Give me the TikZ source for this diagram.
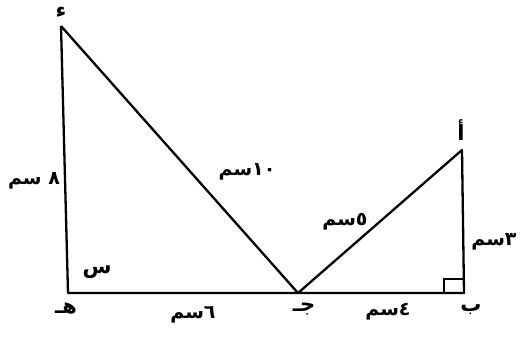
\documentclass[tikz,border=0pt]{standalone}
\usepackage{fontspec}
\TeXXeTstate=1
\newfontfamily\arabicfont[Script=Arabic]{DejaVu Sans}
\newcommand{\artext}[1]{\beginR #1\endR}
\newcommand{\nbr}[1]{\beginL #1\endL{}}

\begin{document}
\begin{tikzpicture}[
  x=1pt, y=-1pt,
  every node/.style={font=\arabicfont\bfseries\fontsize{19}{21}\selectfont, inner sep=1pt},
  vlabel/.style={font=\arabicfont\bfseries\fontsize{21}{23}\selectfont},
  side/.style={line width=2.3pt, line join=round},
]

\useasboundingbox (0,0) rectangle (520,337);

% vertices
\coordinate (D) at (61,26);
\coordinate (H) at (68,293);
\coordinate (J) at (298,293);
\coordinate (B) at (464,293);
\coordinate (A) at (462,150);

\draw[side] (D) -- (H) -- (B) -- (A) -- (J) -- (D);
\draw[line width=1.4pt] (B) ++(-20,0) -- ++(0,-14) -- ++(20,0);

% vertex labels
\node[vlabel] (lD) at (61,12) {\artext{ء}};
\node[vlabel] (lA) at (461,130) {\artext{أ}};
\node[vlabel] (lH) at (66,309) {\artext{هـ}};
\node[vlabel] (lJ) at (304,309) {\artext{جـ}};
\node[vlabel] (lB) at (471,310) {\artext{ب}};
\node[vlabel] (lS) at (97,272) {\artext{س}};

% lengths
\node (sDH) at (34,181) {\artext{\nbr{٨} سم}};
\node (sDJ) at (247,172) {\artext{\nbr{١٠}سم}};
\node (sAJ) at (345,222) {\artext{\nbr{٥}سم}};
\node (sAB) at (494,242) {\artext{\nbr{٣}سم}};
\node (sHJ) at (193,315) {\artext{\nbr{٦}سم}};
\node (sJB) at (388,312) {\artext{\nbr{٤}سم}};

\end{tikzpicture}
\end{document}
